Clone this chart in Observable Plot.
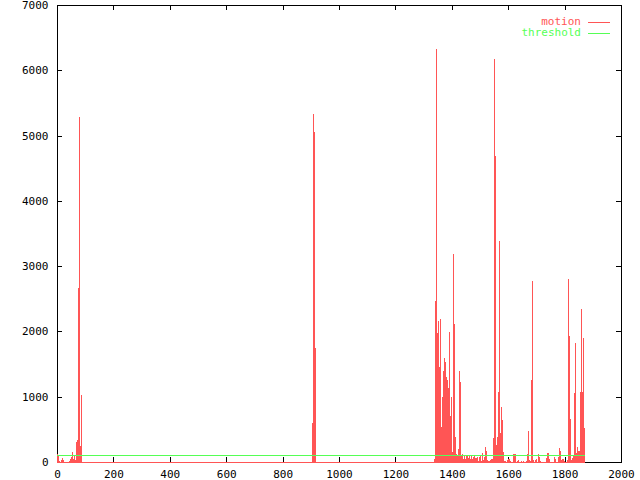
<!DOCTYPE html>
<html><head><meta charset="utf-8">
<script src="https://cdn.jsdelivr.net/npm/d3@7"></script>
<script src="https://cdn.jsdelivr.net/npm/@observablehq/plot@0.6"></script>
<style>
body{margin:0;background:#fff;}
#wrap{position:relative;width:640px;height:480px;font-family:"DejaVu Sans Mono",monospace;font-size:11px;}
.lt{position:absolute;line-height:11px;white-space:pre;text-align:right;}
.ls{position:absolute;height:1px;width:22px;}
</style></head><body><div id="wrap"></div>
<script>
// motion samples (frame number, motion value); frames not listed are 0
const motionFrames = [
  1,4,7,14,18,21,43,46,50,53,57,60,64,67,71,74,78,82,85,
  904,908,911,915,
  1337,1340,1344,1348,1351,1355,1358,1362,1365,1369,1372,1376,1379,1383,1386,1390,1394,1397,1401,1404,1408,1411,1415,1418,1422,1425,1429,1433,1436,1440,1443,1447,1450,1454,1457,1461,1465,1468,1472,1475,1479,1482,1486,1489,1493,1496,1500,1504,1507,1511,1514,1518,1521,1525,1528,1532,1535,1539,1542,1546,1550,1553,1557,1560,1564,1567,1571,1574,1578,1582,1585,1589,1596,1599,1603,1606,1617,1620,1624,1631,1635,1645,1652,1663,1667,1670,1674,1677,1681,1684,1688,1695,1699,1706,1709,1713,1734,1738,1741,1745,1762,1766,1777,1780,1784,1787,1791,1794,1798,1808,1812,1816,1819,1823,1826,1830,1833,1837,1840,1844,1847,1851,1855,1858,1862,1865,1869
];
const motionValues = [
  120,90,20,30,60,30,20,40,80,160,40,110,30,310,330,2670,5290,240,1020,
  600,5330,5050,1750,
  50,2460,6330,1980,2160,1450,2190,540,990,1400,1600,1530,1300,1250,1130,1990,700,1000,160,3180,2120,380,130,90,200,1400,1230,90,130,50,110,40,110,110,60,110,40,100,50,70,90,60,60,80,20,70,100,20,140,30,80,230,170,30,10,10,30,40,40,360,6180,4690,260,390,1070,3380,440,840,640,160,20,10,30,40,40,10,120,120,120,10,30,10,20,10,120,480,30,10,1260,2770,30,30,40,120,70,20,60,140,140,40,70,40,80,220,170,30,40,40,10,30,2800,1930,660,30,60,100,1050,1820,140,230,170,170,1070,2340,1070,1900,520
];
const firstFrame = 0;
const lastFrame = 1872;
const thresholdValue = 100;
const seriesNames = ["motion", "threshold"];
const seriesColors = ["#ff5555", "#55ff55"];
const xTicks = [0,200,400,600,800,1000,1200,1400,1600,1800,2000];
const yTicks = [0,1000,2000,3000,4000,5000,6000,7000];

const W = 640, H = 480, mL = 57, mR = 19, mT = 5, mB = 18;
const T = 5; // inward tick length (px)
const innerW = W - mL - mR, innerH = H - mT - mB;

const motion = motionFrames.map((f, i) => ({frame: f, value: motionValues[i]}));
const plain = (d) => String(d);
const font = {fontFamily: "DejaVu Sans Mono, monospace", fontSize: 11, fill: "black"};
const crisp = {shapeRendering: "crispEdges"};

const chart = Plot.plot({
  width: W, height: H,
  marginLeft: mL, marginRight: mR, marginTop: mT, marginBottom: mB,
  style: {fontFamily: "DejaVu Sans Mono, monospace", fontSize: "11px", color: "black", background: "white"},
  x: {domain: [0, 2000], axis: null, label: null},
  y: {domain: [0, 7000], axis: null, label: null},
  marks: [
    Plot.frame({stroke: "black", ...crisp}),
    Plot.axisX(xTicks, {anchor: "bottom", tickSize: 0, tickPadding: 8, tickFormat: plain, label: null, ...font}),
    Plot.axisY(yTicks, {anchor: "left", tickSize: 0, tickPadding: 9, tickFormat: plain, label: null, ...font}),
    // inward ticks on all four borders
    Plot.ruleX(xTicks, {insetTop: innerH - T, stroke: "black", ...crisp}),
    Plot.ruleX(xTicks, {insetBottom: innerH - T, stroke: "black", ...crisp}),
    Plot.ruleY(yTicks, {insetRight: innerW - T, stroke: "black", ...crisp}),
    Plot.ruleY(yTicks, {insetLeft: innerW - T, stroke: "black", ...crisp}),
    Plot.ruleY([0], {x1: firstFrame, x2: lastFrame, stroke: seriesColors[0], strokeWidth: 1, ...crisp}),
    Plot.ruleX(motion, {x: "frame", y1: 0, y2: "value", stroke: seriesColors[0], strokeWidth: 1, ...crisp}),
    Plot.ruleY([thresholdValue], {x1: firstFrame, x2: lastFrame, stroke: seriesColors[1], strokeWidth: 1, ...crisp})
  ]
});
const wrap = document.getElementById("wrap");
wrap.appendChild(chart);
// legend (top right, inside the frame)
seriesNames.forEach((name, i) => {
  const t = document.createElement("div");
  t.className = "lt";
  t.textContent = name;
  t.style.color = seriesColors[i];
  t.style.right = "59px";
  t.style.top = (16 + i * 11) + "px";
  wrap.appendChild(t);
  const s = document.createElement("div");
  s.className = "ls";
  s.style.background = seriesColors[i];
  s.style.left = "588px";
  s.style.top = (22 + i * 11) + "px";
  wrap.appendChild(s);
});
</script></body></html>
